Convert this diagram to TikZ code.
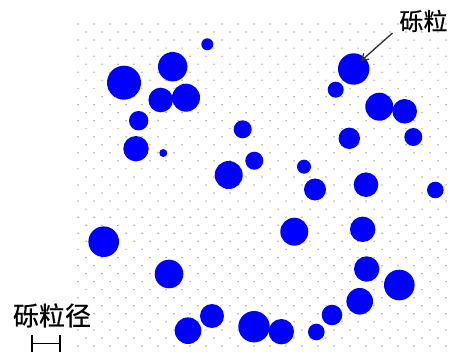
\documentclass[tikz,border=0pt]{standalone}
\usepackage{fontspec}
\newfontfamily\cjk[FakeBold=0.6]{Noto Sans CJK SC}
\usetikzlibrary{arrows.meta}
\definecolor{grainblue}{RGB}{0,0,255}
\definecolor{dotgray}{RGB}{175,175,175}
\begin{document}
\begin{tikzpicture}[x=1pt,y=-1pt,
  grain/.style={fill=grainblue},
  gdot/.style={fill=dotgray},
  lbltext/.style={font=\cjk\fontsize{24}{24}\selectfont, inner sep=0pt},
  barline/.style={line width=1.4pt, black}]
\useasboundingbox (0,0) rectangle (453,358);
\fill[white] (0,0) rectangle (453,358);
\begin{scope}
\clip (0,0) rectangle (453,358);
\foreach \k in {0,...,40}{
  \pgfmathsetmacro\yy{24+8.05*\k}
  \pgfmathsetmacro\xo{78+8*mod(\k,2)}
  \foreach \i in {0,...,23}{
    \fill[gdot] ({\xo+16*\i},\yy) circle (0.85);
  }
}
\end{scope}
\foreach \cx/\cy/\r in {
  207.3/44.3/6, 124/82.7/17, 172.7/66.7/14.7, 160.7/100/12.3, 186/97.7/14,
  138.7/120.7/9.7, 136/148.7/12.7, 163.3/153/4,
  353.7/69/15.7, 335.7/89.7/8, 379.3/106.7/14, 404.7/111.3/12.3,
  242.7/129.3/9, 349.3/138.3/10.7, 413.3/137/9,
  254.3/160.7/9, 304/166.7/7, 228.7/175/14, 315/189.5/11,
  366/184.7/12.3, 435.3/190/8.3, 294.3/231.7/14, 362.7/229.3/12.7,
  366.7/269/12.7, 399.3/285/15.3, 359.7/301.3/13.3, 332/315/10.3,
  254/326.7/15.7, 281.3/331.7/12.7, 316.3/332/8.3,
  103.7/241.7/15.3, 169/274/14.3, 212/316/12, 188/330.7/13.3}{
  \fill[grain] (\cx,\cy) circle (\r);
}
\node[lbltext] (gravel) at (423.5,21) {砾粒};
\node[lbltext, font=\cjk\fontsize{26}{26}\selectfont] (diam) at (52,315.5) {砾粒径};
\coordinate (tail) at (392.5,33);
\coordinate (tip) at (361,61);
\draw[line width=1.3pt, black!80, -{Straight Barb[length=6pt,width=8pt]}] (tail) -- (tip);
\coordinate (bl) at (32,335);
\coordinate (bl2) at (32,352);
\coordinate (br) at (60,335);
\coordinate (br2) at (60,352);
\draw[barline] (bl) -- (bl2);
\draw[barline] (br) -- (br2);
\draw[barline] (32,343.5) -- (60,343.5);
\end{tikzpicture}
\end{document}
